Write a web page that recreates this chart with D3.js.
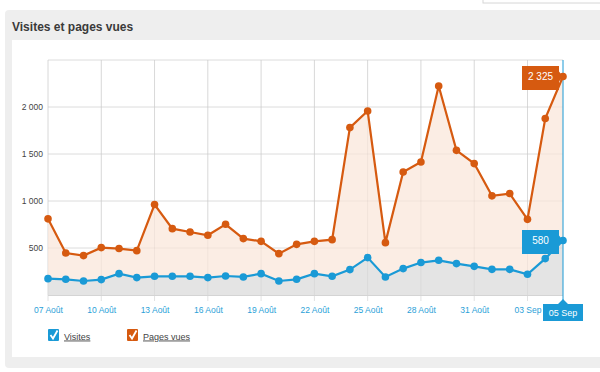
<!DOCTYPE html>
<html>
<head>
<meta charset="utf-8">
<script src="https://cdn.jsdelivr.net/npm/d3@7"></script>
<style>
  body { margin: 0; background: #fff; font-family: "Liberation Sans", Arial, sans-serif; }
  svg { display: block; }
</style>
</head>
<body>
<script>
// days from 07 Aout to 05 Sep
const days = ["07 Août","08 Août","09 Août","10 Août","11 Août","12 Août","13 Août","14 Août","15 Août",
  "16 Août","17 Août","18 Août","19 Août","20 Août","21 Août","22 Août","23 Août","24 Août","25 Août",
  "26 Août","27 Août","28 Août","29 Août","30 Août","31 Août","01 Sep","02 Sep","03 Sep","04 Sep","05 Sep"];

const visites = [174, 167, 149, 164, 227, 185, 199, 199, 199, 185, 202, 192, 227, 149, 167,
  227, 199, 270, 398, 192, 281, 345, 369, 334, 305, 273, 273, 220, 387, 580];

const pagesVues = [810, 447, 419, 504, 494, 472, 962, 706, 670, 635, 752, 600, 571, 440, 539,
  571, 589, 1781, 1957, 557, 1309, 1415, 2223, 1539, 1398, 1055, 1079, 805, 1877, 2325];

const tickLabels = ["07 Août","10 Août","13 Août","16 Août","19 Août","22 Août","25 Août","28 Août","31 Août","03 Sep"];
const yTicks = [500, 1000, 1500, 2000, 2500];

const W = 600, H = 372;
const blue = "#1a9ad6", orange = "#d65a10";

const svg = d3.select("body").append("svg")
  .attr("width", W)
  .attr("height", H);

// panel backgrounds
svg.append("rect").attr("x", 483).attr("y", -4).attr("width", 130).attr("height", 7)
  .attr("fill", "#fff").attr("stroke", "#d6d6d6");
svg.append("rect").attr("x", 5).attr("y", 10).attr("width", 600).attr("height", 358)
  .attr("rx", 4).attr("fill", "#eeeeee");
svg.append("rect").attr("x", 12).attr("y", 40).attr("width", 600).attr("height", 317)
  .attr("fill", "#fff");

svg.append("text")
  .attr("x", 12).attr("y", 31)
  .attr("font-size", 12).attr("font-weight", "bold").attr("fill", "#3a3a3a")
  .text("Visites et pages vues");

const x = d3.scalePoint().domain(days).range([48, 563]);
const y = d3.scaleLinear().domain([0, 2500]).range([295, 60]);

const g = svg.append("g");

// horizontal grid
g.selectAll(".hgrid").data(yTicks).enter().append("line")
  .attr("x1", 48).attr("x2", 563)
  .attr("y1", d => y(d)).attr("y2", d => y(d))
  .attr("stroke", "#e6e6e6").attr("stroke-width", 1);

// vertical grid + tick marks
g.selectAll(".vgrid").data(tickLabels).enter().append("line")
  .attr("x1", d => x(d)).attr("x2", d => x(d))
  .attr("y1", 60).attr("y2", 301)
  .attr("stroke", "#e2e2e2").attr("stroke-width", 1);

// areas
const areaP = d3.area()
  .x((d, i) => x(days[i]))
  .y0(y(0))
  .y1(d => y(d));

g.append("path").datum(pagesVues).attr("d", areaP).attr("fill", "#fbede4");
g.append("path").datum(visites).attr("d", areaP).attr("fill", "#e4e4e4");

// faint grid over the areas
g.selectAll(".hgrid2").data(yTicks).enter().append("line")
  .attr("x1", 48).attr("x2", 563)
  .attr("y1", d => y(d)).attr("y2", d => y(d))
  .attr("stroke", "#000").attr("stroke-opacity", 0.045);
g.selectAll(".vgrid2").data(tickLabels).enter().append("line")
  .attr("x1", d => x(d)).attr("x2", d => x(d))
  .attr("y1", 60).attr("y2", 295)
  .attr("stroke", "#000").attr("stroke-opacity", 0.045);

// baseline
g.append("line").attr("x1", 48).attr("x2", 563).attr("y1", 295.5).attr("y2", 295.5)
  .attr("stroke", "#d4d4d4");

// y axis labels
const yAxis = d3.axisLeft(y).tickValues(yTicks.slice(0, 4)).tickSize(0).tickPadding(5)
  .tickFormat(d => d3.format(",")(d).replace(",", " "));
const yG = svg.append("g").attr("transform", "translate(48,0)").call(yAxis);
yG.select(".domain").remove();
yG.selectAll("text").attr("font-size", 8.5).attr("fill", "#444")
  .attr("font-family", "Liberation Sans, Arial, sans-serif");

// x axis labels
const xAxis = d3.axisBottom(x).tickValues(tickLabels).tickSize(0).tickPadding(12);
const xG = svg.append("g").attr("transform", "translate(0,295)").call(xAxis);
xG.select(".domain").remove();
xG.selectAll("text").attr("font-size", 8.5).attr("fill", "#2a9fd8")
  .attr("font-family", "Liberation Sans, Arial, sans-serif");

// crosshair at last day
const last = days[days.length - 1];
g.append("line").attr("x1", x(last)).attr("x2", x(last)).attr("y1", 60).attr("y2", 304)
  .attr("stroke", blue).attr("stroke-width", 1);

// lines
const line = d3.line().x((d, i) => x(days[i])).y(d => y(d));

function drawSeries(vals, color) {
  g.append("path").datum(vals).attr("d", line)
    .attr("fill", "none").attr("stroke", color).attr("stroke-width", 2.2);
  g.selectAll(null).data(vals).enter().append("circle")
    .attr("cx", (d, i) => x(days[i])).attr("cy", d => y(d))
    .attr("r", 3.8).attr("fill", color);
}
drawSeries(pagesVues, orange);
drawSeries(visites, blue);

// value tooltips
function tooltip(val, color) {
  const px = x(last), py = y(val);
  const w = 37, h = 23;
  const bx = px - 4 - w;
  const t = svg.append("g");
  t.append("path")
    .attr("d", `M${bx},${py - h / 2 + 1} h${w} v${h / 2 - 6} l4,${5} l-4,${5} v${h / 2 - 3} h${-w} Z`)
    .attr("fill", color);
  t.append("text").attr("x", bx + w / 2).attr("y", py + 4)
    .attr("text-anchor", "middle").attr("font-size", 10).attr("fill", "#fff")
    .text(d3.format(",")(val).replace(",", " "));
}
tooltip(pagesVues[pagesVues.length - 1], orange);
tooltip(visites[visites.length - 1], blue);

// x tooltip at last day
const lx = x(last);
svg.append("path")
  .attr("d", `M${lx - 20},304 h15 l5,-5 l5,5 h15 v17 h-40 Z`)
  .attr("fill", blue);
svg.append("text").attr("x", lx).attr("y", 316)
  .attr("text-anchor", "middle").attr("font-size", 9).attr("fill", "#fff")
  .text(last);

// legend
const legend = [{name: "Visites", color: blue, x: 48}, {name: "Pages vues", color: orange, x: 127}];
const lg = svg.selectAll(".lg").data(legend).enter().append("g")
  .attr("transform", d => `translate(${d.x},329)`);
lg.append("rect").attr("width", 11).attr("height", 12).attr("rx", 1).attr("fill", d => d.color);
lg.append("path").attr("d", "M2.5,6 L5,9.5 L9.5,1.5")
  .attr("fill", "none").attr("stroke", "#fff").attr("stroke-width", 1.8);
lg.append("text").attr("x", 16).attr("y", 10.5)
  .attr("font-size", 9).attr("fill", "#444").attr("text-decoration", "underline")
  .text(d => d.name);
</script>
</body>
</html>
